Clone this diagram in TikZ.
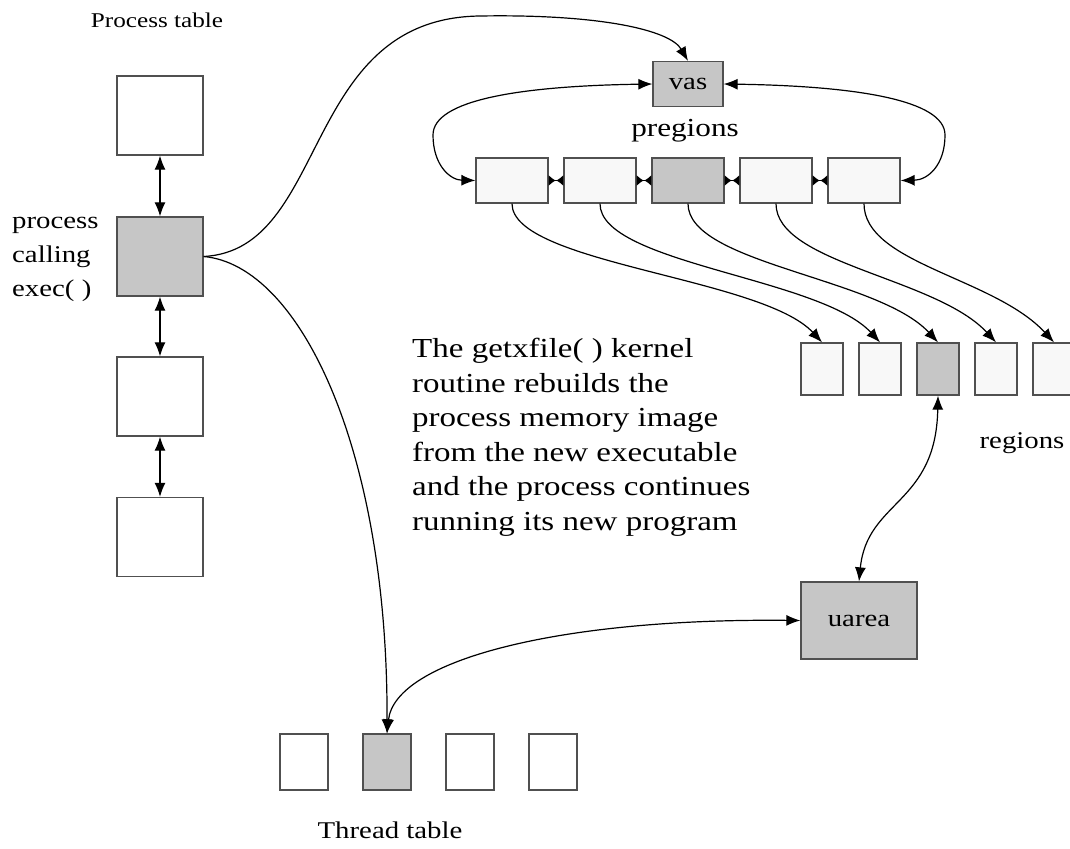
\documentclass[tikz,border=0pt]{standalone}
\usepackage{fontspec}
\setmainfont{Liberation Serif}[FakeStretch=1.2]
\usetikzlibrary{arrows.meta}
\definecolor{boxgray}{HTML}{C6C6C6}
\definecolor{boxlight}{HTML}{F8F8F8}
\definecolor{edgegray}{HTML}{505050}
\begin{document}
\begin{tikzpicture}[x=1pt,y=-1pt,
  cell/.style={draw=edgegray,line width=1.3pt,fill=white,minimum width=#1,inner sep=0pt},
  hot/.style={fill=boxgray},
  soft/.style={fill=boxlight},
  plain/.style={fill=white},
  link/.style={line width=1.2pt,-{Latex[length=14pt,width=11pt]}},
  dlink/.style={line width=1.2pt,{Latex[length=14pt,width=11pt]}-{Latex[length=14pt,width=11pt]}},
  tiny/.style={line width=1.2pt,{Latex[reversed,length=7pt,width=11pt]}-{Latex[reversed,length=7pt,width=11pt]}},
  lbl/.style={font=\fontsize{24}{28}\selectfont,inner sep=0pt}
]
\useasboundingbox (0,0) rectangle (1070,848);

% process table
\node[lbl,font=\fontsize{21}{25}\selectfont] (ptitle) at (157,20) {Process table};
\node[cell=86pt,minimum height=79pt] (p1) at (160,115.5) {};
\node[cell=86pt,minimum height=79pt,hot] (p2) at (160,256.5) {};
\node[cell=86pt,minimum height=79pt] (p3) at (160,396.5) {};
\node[cell=86pt,minimum height=79pt] (p4) at (160,537) {};
\draw[dlink] (p1) -- (p2);
\draw[dlink] (p2) -- (p3);
\draw[dlink] (p3) -- (p4);
\node[lbl,font=\fontsize{24}{34}\selectfont,align=left,anchor=west] (pcall) at (12,259) {process\\calling\\exec( )};

% vas and pregions
\node[cell=70pt,minimum height=45pt,hot,lbl] (vas) at (688,84) {vas};
\node[lbl,font=\fontsize{26}{30}\selectfont] (preg) at (685,131) {pregions};
\foreach \i/\x/\s in {1/512/soft,2/600/soft,3/688/hot,4/776/soft,5/864/soft}
  \node[cell=72pt,minimum height=45pt,\s] (pr\i) at (\x,180.5) {};
\draw[tiny] (pr1) -- (pr2);
\draw[tiny] (pr2) -- (pr3);
\draw[tiny] (pr3) -- (pr4);
\draw[tiny] (pr4) -- (pr5);
\draw[dlink] (vas.west) .. controls (520,86) and (433,100) .. (433,135)
  .. controls (433,165) and (450,180) .. (pr1.west);
\draw[dlink] (vas.east) .. controls (856,86) and (945,100) .. (945,135)
  .. controls (945,165) and (928,180) .. (pr5.east);

% regions
\foreach \i/\x/\s in {1/822/soft,2/880/soft,3/938/hot,4/996/soft,5/1054/soft}
  \node[cell=42pt,minimum height=52pt,\s] (r\i) at (\x,369) {};
\node[lbl] (regl) at (1022,443) {regions};
\foreach \i in {1,...,5}
  \draw[link] (pr\i.south) .. controls +(0,60) and +(-60,-65) .. (r\i.north);

% uarea
\node[cell=116pt,minimum height=77pt,hot,lbl] (uarea) at (859,620.5) {uarea};
\draw[dlink] (uarea.north) .. controls (867,500) and (936,505) .. (r3.south);

% thread table
\foreach \i/\x/\s in {1/304/plain,2/387/hot,3/470/plain,4/553/plain}
  \node[cell=48pt,minimum height=56pt,\s] (t\i) at (\x,762) {};
\node[lbl] (ttitle) at (390,830) {Thread table};
\draw[dlink] (uarea.west) .. controls (560,618) and (395,660) .. (t2.north);

% links from the calling process
\draw[link] (p2.east) .. controls (330,250) and (300,18) .. (480,16)
  .. controls (600,14) and (670,30) .. (vas.north);
\draw[link] (p2.east) .. controls (300,265) and (388,450) .. (t2.north);

% explanatory text
\node[anchor=north west,align=left,inner sep=0pt,font=\fontsize{27.5}{34.5}\selectfont] (note) at (412,338)
  {The getxfile( ) kernel\\routine rebuilds the\\process memory image\\from the new executable\\and the process continues\\running its new program};
\end{tikzpicture}
\end{document}
